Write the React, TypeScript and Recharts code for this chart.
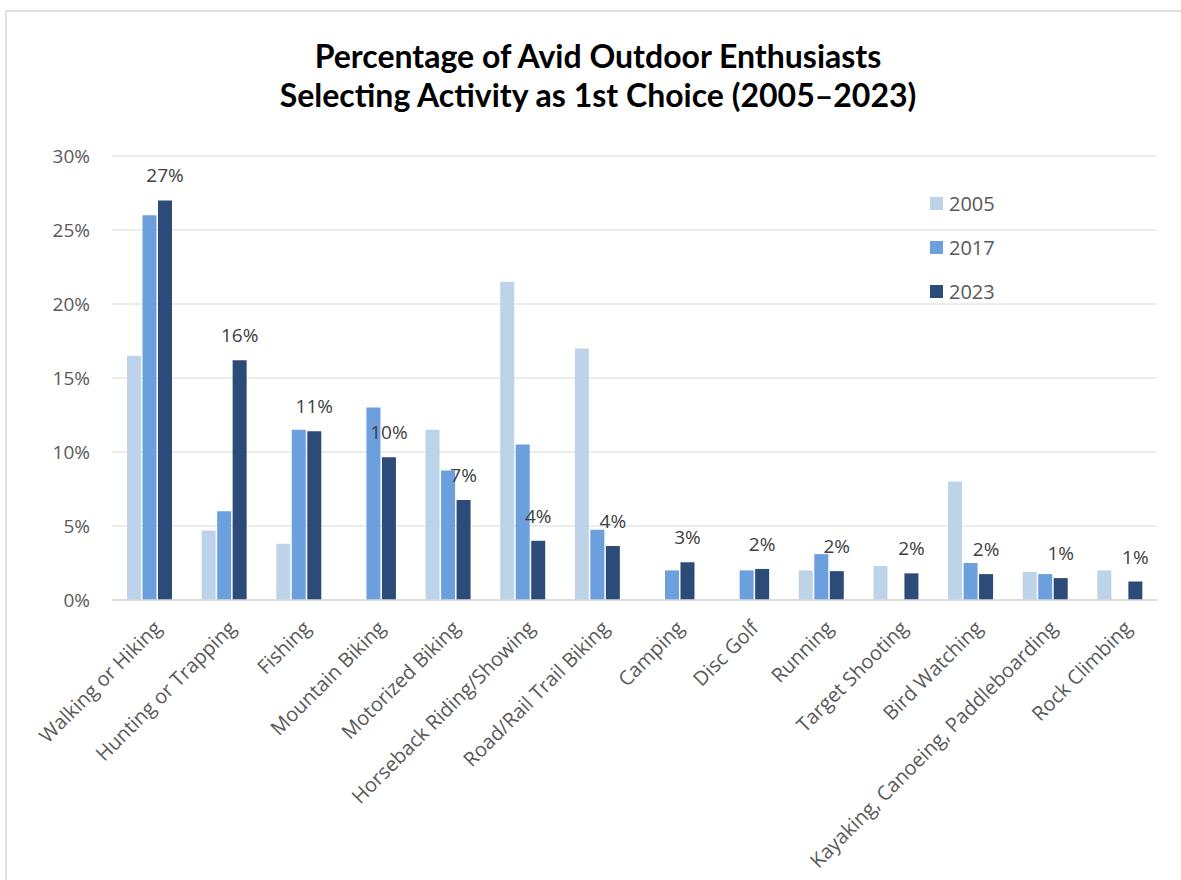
import { Bar, BarChart, CartesianGrid, LabelList, Legend, XAxis, YAxis } from 'recharts';

const ACTIVITIES = [
  'Walking or Hiking',
  'Hunting or Trapping',
  'Fishing',
  'Mountain Biking',
  'Motorized Biking',
  'Horseback Riding/Showing',
  'Road/Rail Trail Biking',
  'Camping',
  'Disc Golf',
  'Running',
  'Target Shooting',
  'Bird Watching',
  'Kayaking, Canoeing, Paddleboarding',
  'Rock Climbing',
];

// percent of respondents, null = not asked that year
const Y2005 = [16.5, 4.7, 3.8, null, 11.5, 21.5, 17.0, null, null, 2.0, 2.3, 8.0, 1.9, 2.0];
const Y2017 = [26.0, 6.0, 11.5, 13.0, 8.75, 10.5, 4.75, 2.0, 2.0, 3.1, null, 2.5, 1.75, null];
const Y2023 = [27.0, 16.2, 11.4, 9.65, 6.75, 4.0, 3.65, 2.55, 2.1, 1.95, 1.8, 1.75, 1.48, 1.25];

const Y_TICKS = [0, 5, 10, 15, 20, 25, 30];

const COLORS = { y2005: '#bdd3ea', y2017: '#6b9fdd', y2023: '#2c4b78' };

const rows = ACTIVITIES.map((name, i) => ({
  name,
  y2005: Y2005[i],
  y2017: Y2017[i],
  y2023: Y2023[i],
}));

const FONT = '"Open Sans", sans-serif';

function CategoryTick({ x, y, payload }: any) {
  const tx = x + 8;
  const ty = y + 16;
  return (
    <text
      x={tx}
      y={ty}
      transform={`rotate(-45 ${tx} ${ty})`}
      textAnchor="end"
      dominantBaseline="central"
      fontSize={20}
      fill="#595959"
      fontFamily={FONT}
    >
      {payload.value}
    </text>
  );
}

function YearLegend({ payload }: any) {
  return (
    <div style={{ fontFamily: FONT, fontSize: 20, color: '#595959' }}>
      {(payload || []).map((p: any) => (
        <div key={p.value} style={{ display: 'flex', alignItems: 'center', height: 44 }}>
          <span style={{ width: 13, height: 13, background: p.color, marginRight: 6 }} />
          <span>{p.value}</span>
        </div>
      ))}
    </div>
  );
}

export default function App() {
  return (
    <div style={{ position: 'absolute', left: 0, top: 0, width: 1181, height: 880, background: '#fff' }}>
      <div
        style={{
          position: 'absolute',
          left: 5,
          top: 10,
          right: -10,
          bottom: -10,
          borderTop: '2px solid #e0e0e0',
          borderLeft: '2px solid #e0e0e0',
        }}
      />
      <div
        style={{
          position: 'absolute',
          left: 0,
          width: 1196,
          top: 36,
          textAlign: 'center',
          fontFamily: 'Lato, sans-serif',
          fontWeight: 700,
          fontSize: 32,
          lineHeight: '39px',
          color: '#000',
        }}
      >
        Percentage of Avid Outdoor Enthusiasts
        <br />
        Selecting Activity as 1st Choice (2005–2023)
      </div>
      <BarChart
        width={1181}
        height={880}
        data={rows}
        margin={{ top: 156, right: 24, bottom: 0, left: 0 }}
        barSize={14}
        barGap={1.5}
        style={{ position: 'absolute', left: 0, top: 0 }}
      >
        <CartesianGrid vertical={false} stroke="#d9d9d9" strokeWidth={1.2} />
        <XAxis
          dataKey="name"
          height={280}
          interval={0}
          tickLine={false}
          axisLine={{ stroke: '#d9d9d9', strokeWidth: 1.5 }}
          tick={<CategoryTick />}
        />
        <YAxis
          width={112}
          domain={[0, 30]}
          ticks={Y_TICKS}
          axisLine={false}
          tickLine={false}
          tickMargin={16}
          tickFormatter={(v: number) => `${v}%`}
          tick={{ fontSize: 19, fill: '#595959', fontFamily: FONT }}
        />
        <Legend
          layout="vertical"
          align="center"
          verticalAlign="middle"
          content={<YearLegend />}
          wrapperStyle={{ left: 930, top: 181, width: 'auto' }}
        />
        <Bar dataKey="y2005" name="2005" fill={COLORS.y2005} isAnimationActive={false} />
        <Bar dataKey="y2017" name="2017" fill={COLORS.y2017} isAnimationActive={false} />
        <Bar dataKey="y2023" name="2023" fill={COLORS.y2023} isAnimationActive={false}>
          <LabelList
            dataKey="y2023"
            position="top"
            offset={18}
            formatter={(v: any) => `${Math.round(Number(v))}%`}
            style={{ fontSize: 19, fill: '#404040', fontFamily: FONT }}
          />
        </Bar>
      </BarChart>
    </div>
  );
}
